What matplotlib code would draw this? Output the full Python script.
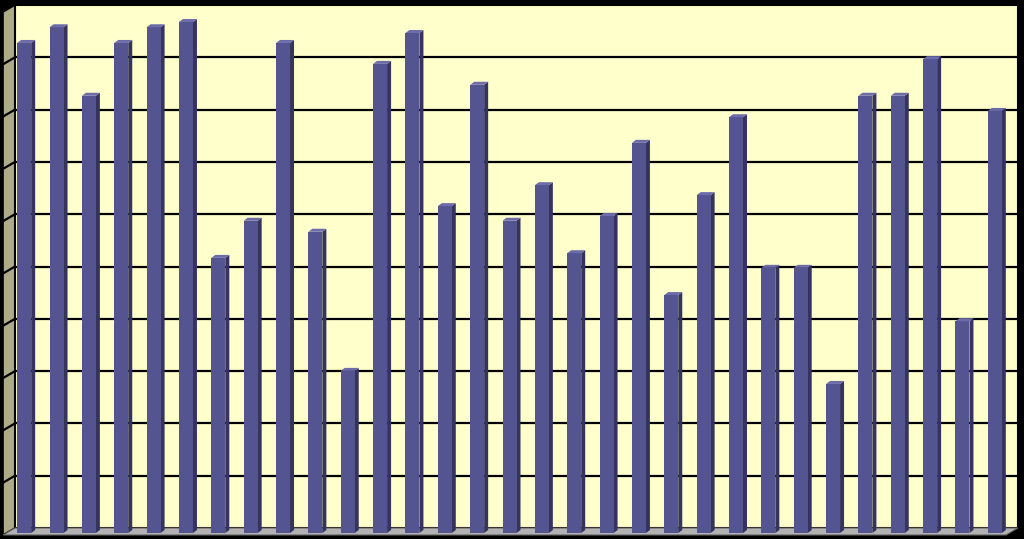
import matplotlib
matplotlib.use("Agg")
import matplotlib.pyplot as plt
import numpy as np
from matplotlib.patches import Polygon

# bar values (0..10 scale, 31 columns)
values = [9.37, 9.67, 8.36, 9.37, 9.67, 9.77, 5.26, 5.97, 9.37, 5.76,
          3.10, 8.97, 9.56, 6.25, 8.57, 5.97, 6.65, 5.35, 6.06, 7.46,
          4.55, 6.46, 7.95, 5.07, 5.07, 2.85, 8.36, 8.36, 9.06, 4.05,
          8.07]
y_max = 10
grid_levels = np.arange(1, y_max + 1)

wall_color = "#ffffcc"
side_wall_color = "#aeab88"
floor_color = "#b2b2b2"
bar_front = "#545490"
bar_side = "#34345e"
bar_top = "#6c6caa"

W, H = 1024, 539
fig = plt.figure(figsize=(W / 100, H / 100), dpi=100, facecolor="black")

# back wall
left_px, right_px, top_px, floor_px = 15, 1018, 5, 528
ax = fig.add_axes([left_px / W, 1 - floor_px / H,
                   (right_px - left_px) / W, (floor_px - top_px) / H])
n = len(values)
ax.set_xlim(-0.5, n - 0.5)
ax.set_ylim(0, y_max)
ax.set_facecolor(wall_color)
ax.set_xticks([])
ax.set_yticks([])
for s in ax.spines.values():
    s.set_color("black")
    s.set_linewidth(1.5)

# pixel -> data unit conversion for the oblique depth offsets
sx = (right_px - left_px) / n
sy = (floor_px - top_px) / y_max


def off(px, py):
    # px right, py up (pixels) -> data units
    return px / sx, py / sy


# gridlines on back wall and side wall
fdx, fdy = off(-12, -7)
for g in grid_levels[:-1]:
    ax.axhline(g, color="black", lw=1.6, zorder=1)
    ax.plot([-0.5, -0.5 + fdx], [g, g + fdy], color="black", lw=1.6,
            clip_on=False, zorder=2)

# side wall
side = Polygon([(-0.5, 0), (-0.5, y_max), (-0.5 + fdx, y_max + fdy),
                (-0.5 + fdx, fdy)], closed=True, facecolor=side_wall_color,
               edgecolor="black", lw=1.2, clip_on=False, zorder=1.5)
ax.add_patch(side)

# floor
floor = Polygon([(-0.5, 0), (n - 0.5, 0), (n - 0.5 + fdx, fdy),
                 (-0.5 + fdx, fdy)], closed=True, facecolor=floor_color,
                edgecolor="#606060", lw=0.8, clip_on=False, zorder=3)
ax.add_patch(floor)

# columns: front face via ax.bar, then side/top faces
x = np.arange(n)
bw = 14 / sx
bdx, bdy = off(-7, -5)
tdx, tdy = off(4, 3)
bars = ax.bar(x + bdx, np.array(values), bottom=bdy, width=bw,
              color=bar_front, edgecolor="none", zorder=5, clip_on=False)
for xi, v in zip(x + bdx, values):
    xr = xi + bw / 2
    xl = xi - bw / 2
    top_y = v + bdy
    ax.add_patch(Polygon([(xr, bdy), (xr, top_y), (xr + tdx, top_y + tdy),
                          (xr + tdx, bdy + tdy)], closed=True,
                         facecolor=bar_side, edgecolor="none", zorder=4,
                         clip_on=False))
    ax.add_patch(Polygon([(xl, top_y), (xr, top_y), (xr + tdx, top_y + tdy),
                          (xl + tdx, top_y + tdy)], closed=True,
                         facecolor=bar_top, edgecolor="none", zorder=5,
                         clip_on=False))

fig.savefig("out.png", dpi=100, facecolor="black")
